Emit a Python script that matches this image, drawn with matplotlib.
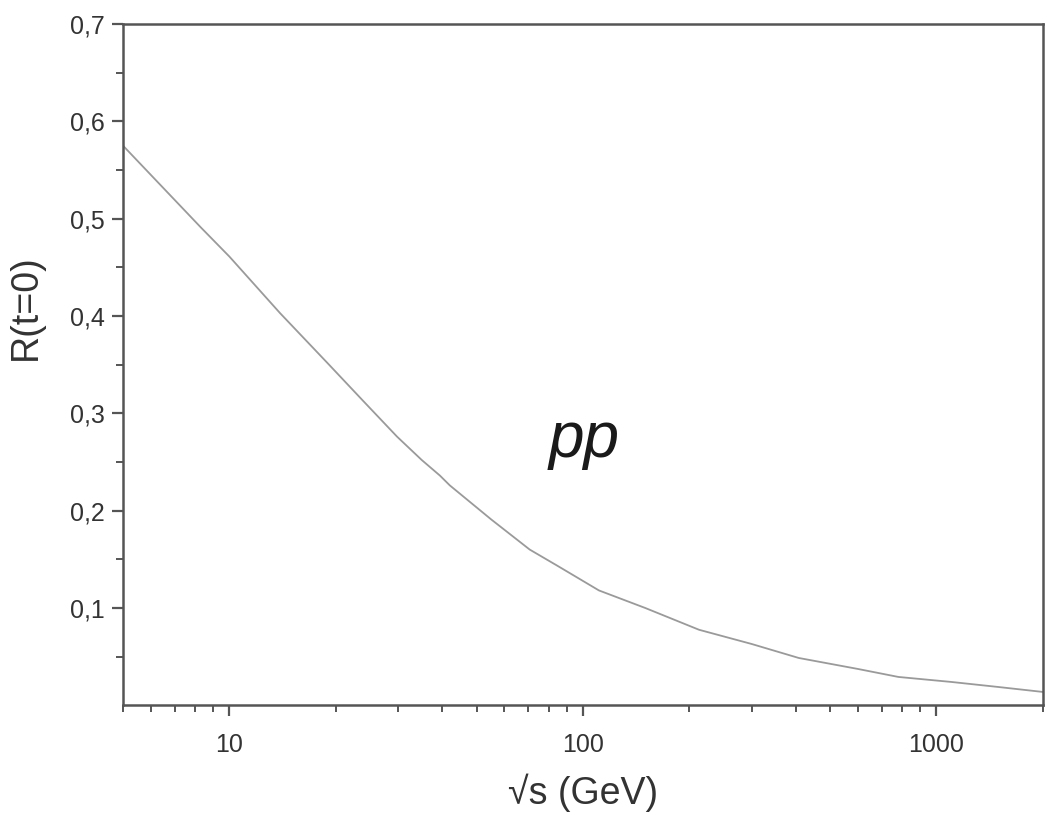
import matplotlib
matplotlib.use('Agg')
import matplotlib.pyplot as plt
from matplotlib.ticker import FixedLocator, NullFormatter, LogLocator

plt.rcParams['font.family'] = ['Liberation Sans', 'DejaVu Sans']

# values
sqrt_s = [5.0, 8.3, 10, 13.9, 18.9, 24, 29.8, 35, 39.4, 42, 55, 70.7, 85,
          111, 150, 213, 300, 408, 600, 781, 1100, 1496, 2000]
R_t0 = [0.575, 0.491, 0.461, 0.403, 0.352, 0.312, 0.276, 0.252, 0.236, 0.226,
        0.191, 0.160, 0.143, 0.118, 0.100, 0.0776, 0.0630, 0.0486, 0.0373,
        0.0291, 0.0240, 0.0188, 0.0137]

y_ticks = [0.1, 0.2, 0.3, 0.4, 0.5, 0.6, 0.7]
y_labels = ['0,1', '0,2', '0,3', '0,4', '0,5', '0,6', '0,7']
x_ticks = [10, 100, 1000]
x_labels = ['10', '100', '1000']

fig = plt.figure(figsize=(10.47, 8.22), dpi=100)
axes = fig.add_axes([0.1175, 0.142, 0.8785, 0.8288])

axes.plot(sqrt_s, R_t0, color='#9a9a9a', lw=1.3)
axes.set_xscale('log')
axes.set_xlim(5, 2000)
axes.set_ylim(0, 0.7)

axes.xaxis.set_major_locator(FixedLocator(x_ticks))
axes.set_xticklabels(x_labels)
axes.xaxis.set_minor_locator(LogLocator(base=10, subs=range(2, 10)))
axes.xaxis.set_minor_formatter(NullFormatter())

axes.set_yticks(y_ticks)
axes.set_yticklabels(y_labels)
axes.set_yticks([0.05, 0.15, 0.25, 0.35, 0.45, 0.55, 0.65], minor=True)

for s in axes.spines.values():
    s.set_color('#555555')
    s.set_linewidth(1.8)

axes.tick_params(which='major', direction='out', length=8, width=1.6,
                 color='#555555', labelcolor='#333333')
axes.tick_params(which='minor', direction='out', length=5, width=1.4,
                 color='#555555')
axes.tick_params(axis='y', labelsize=18, pad=5)
axes.tick_params(axis='x', labelsize=18, pad=12)

axes.text(101, 0.273, 'pp', style='italic', fontsize=46, color='#1a1a1a',
          ha='center', va='center')

axes.set_xlabel('\u221as (GeV)', fontsize=27, color='#333333', labelpad=12)
axes.set_ylabel('R(t=0)', fontsize=27, color='#333333')
axes.yaxis.set_label_coords(-0.086, 0.585)

plt.savefig('out.png', dpi=100)
